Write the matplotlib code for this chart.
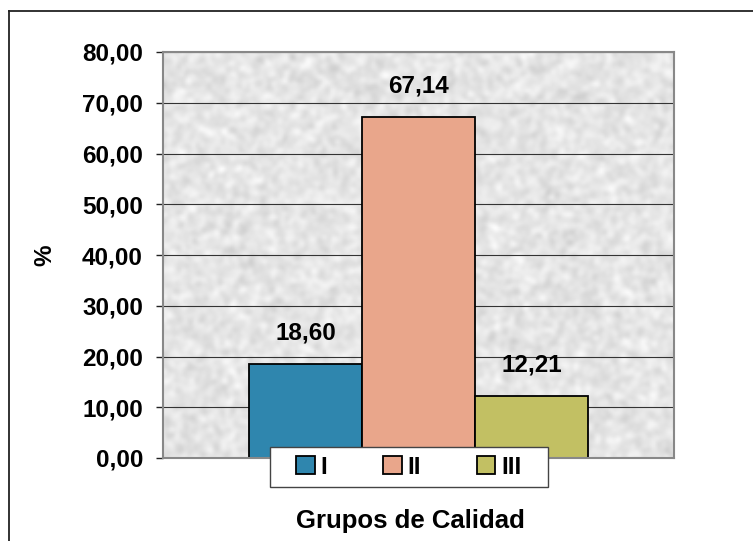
import numpy as np
import matplotlib
matplotlib.use("Agg")
import matplotlib.pyplot as plt
from matplotlib.patches import Patch, Rectangle
from matplotlib.lines import Line2D
from numpy.fft import fft2, ifft2

groups = ["I", "II", "III"]
values = [18.60, 67.14, 12.21]
labels = ["18,60", "67,14", "12,21"]
colors = ["#2f86ae", "#e9a68b", "#c2c063"]
yticks = [0, 10, 20, 30, 40, 50, 60, 70, 80]
ytick_labels = ["0,00", "10,00", "20,00", "30,00", "40,00", "50,00", "60,00", "70,00", "80,00"]

plt.rcParams['font.family'] = ['Liberation Sans', 'DejaVu Sans']
FS = 17.5

W, H = 753, 541
fig = plt.figure(figsize=(W / 100, H / 100), dpi=100)
fig.patch.set_facecolor("white")

# outer frame (left and top lines)
fig.add_artist(Line2D([9 / W, 9 / W], [0, 1 - 11 / H], transform=fig.transFigure, color="#222222", lw=1.3))
fig.add_artist(Line2D([9 / W, 1], [1 - 11 / H, 1 - 11 / H], transform=fig.transFigure, color="#222222", lw=1.3))

left, right, top, bottom = 163, 674, 52, 458
ax = fig.add_axes([left / W, 1 - bottom / H, (right - left) / W, (bottom - top) / H])

# granite-like background texture (decoration only)
rng = np.random.default_rng(3)
tex = rng.normal(0, 1, (200, 250))
ky = np.fft.fftfreq(200)[:, None]
kx = np.fft.fftfreq(250)[None, :]
filt = np.exp(-((kx ** 2 + ky ** 2) / 0.03))
tex = np.real(ifft2(fft2(tex) * filt))
tex = (tex - tex.min()) / (tex.max() - tex.min())
tex = 0.80 + 0.19 * tex
ax.imshow(tex, cmap="gray", vmin=0, vmax=1, extent=[-2.26, 2.26, 0, 80],
          aspect="auto", zorder=0, interpolation="bilinear")

x = np.array([-1.0, 0.0, 1.0])
ax.set_xlim(-2.26, 2.26)
ax.set_ylim(0, 80)

for yv in yticks[1:]:
    ax.axhline(yv, color="#333333", lw=0.8, zorder=1)

bars = ax.bar(x, values, width=1.0, color=colors, edgecolor="black", linewidth=1.3, zorder=2)

for xi, v, lab in zip(x, values, labels):
    ax.annotate(lab, (xi, v), xytext=(0, 31), textcoords="offset pixels", ha="center", va="center",
                fontsize=FS, fontweight="bold", zorder=3)

ax.set_yticks(yticks)
ax.set_yticklabels(ytick_labels, fontsize=FS, fontweight="bold")
ax.set_xticks([])
ax.tick_params(axis="y", length=5, width=1, color="#222222", pad=9.4)
for s in ax.spines.values():
    s.set_color("#888888")
    s.set_linewidth(1.5)

fig.text(45 / W, 1 - 255 / H, "%", rotation=90, ha="center", va="center",
         fontsize=FS, fontweight="bold")

fig.text(410 / W, 1 - 521 / H, "Grupos de Calidad", ha="center", va="center",
         fontsize=18.5, fontweight="bold")

# legend box
fig.add_artist(Rectangle((270 / W, 1 - 487 / H), (548 - 270) / W, 40 / H, transform=fig.transFigure,
                         facecolor="white", edgecolor="#444444", linewidth=1.0, zorder=5))
handles = [Patch(facecolor=c, edgecolor="black", linewidth=1.3) for c in colors]
leg = fig.legend(handles, groups, loc="center", bbox_to_anchor=(409 / W, 1 - 467 / H), ncol=3,
                 frameon=False, prop={"weight": "bold", "size": FS}, handlelength=0.75,
                 handleheight=0.75, handletextpad=0.25, columnspacing=2.3, borderpad=0.35,
                 borderaxespad=0)
leg.set_zorder(6)

fig.savefig("out.png", dpi=100)
